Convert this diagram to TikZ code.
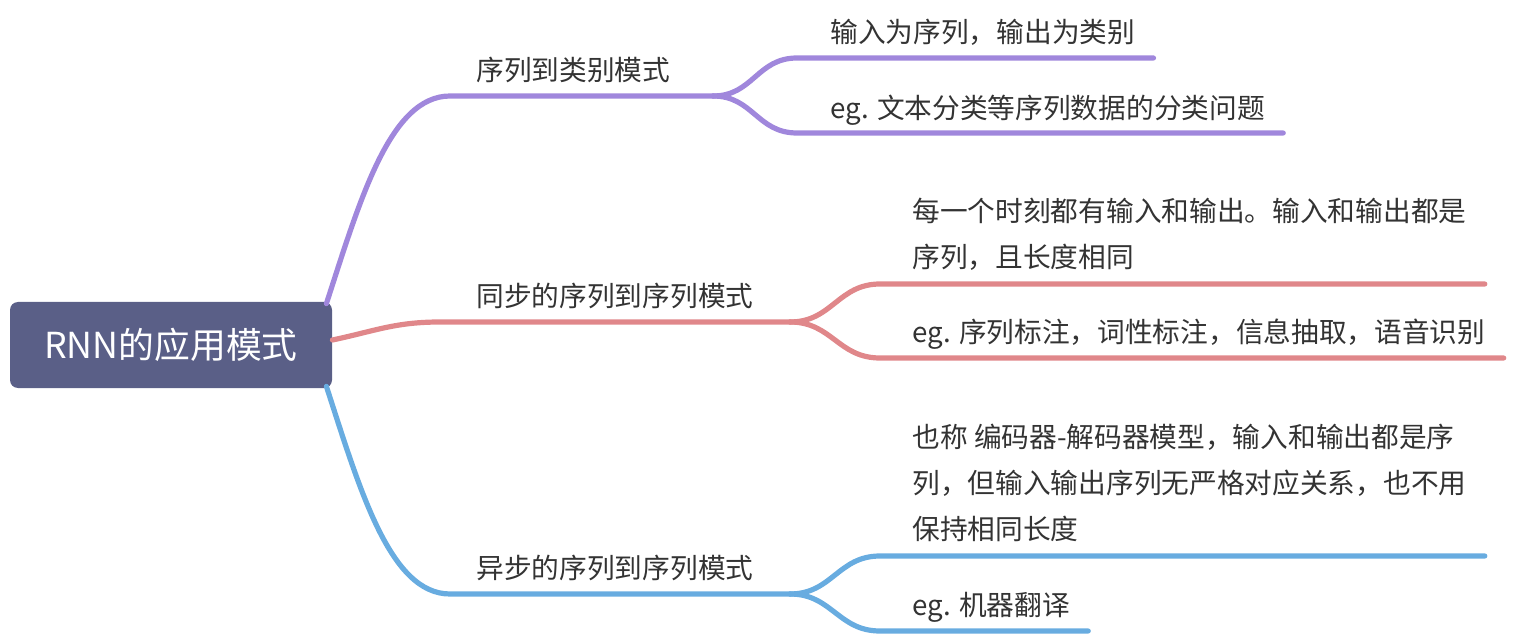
\documentclass[tikz,border=0pt]{standalone}
\usepackage{fontspec}
\setmainfont{Noto Sans CJK SC}
\definecolor{MapRoot}{HTML}{5A5F87}
\definecolor{MapPurple}{HTML}{A087DC}
\definecolor{MapRed}{HTML}{E0878A}
\definecolor{MapBlue}{HTML}{68ACE0}
\definecolor{MapText}{HTML}{333333}

\begin{document}
\begin{tikzpicture}[
    x=0.5pt,y=-0.5pt,
    rootbox/.style={fill=MapRoot,rounded corners=4pt,minimum width=161pt,minimum height=43pt,inner sep=0pt,text=white,font=\fontsize{17.9pt}{20pt}\selectfont},
    topic/.style={anchor=base west,inner xsep=9pt,inner ysep=0pt,align=left,text=MapText,font=\fontsize{13.85pt}{23pt}\selectfont},
    link/.style={line width=2.6pt,line cap=round}
  ]
  \useasboundingbox (0,0) rectangle (1516,636);
  \node[rootbox] (root) at (171,345) {RNN的应用模式};

  \node[topic] (seqcls) at (458,80.5) {序列到类别模式};
  \node[topic] (seqclsio) at (812,42.5) {输入为序列，输出为类别};
  \node[topic] (seqclseg) at (812,118.5) {eg. 文本分类等序列数据的分类问题};

  \node[topic] (syncseq) at (458,306.5) {同步的序列到序列模式};
  \node[topic] (syncio) at (894,267.5) {每一个时刻都有输入和输出。输入和输出都是\\序列，且长度相同};
  \node[topic] (synceg) at (894,342.5) {eg. 序列标注，词性标注，信息抽取，语音识别};

  \node[topic] (asyncseq) at (458,578.5) {异步的序列到序列模式};
  \node[topic] (asyncio) at (894,539.5) {也称 编码器-解码器模型，输入和输出都是序\\列，但输入输出序列无严格对应关系，也不用\\保持相同长度};
  \node[topic] (asynceg) at (894,615.5) {eg. 机器翻译};

  \coordinate (pa) at (450,96);
  \coordinate (pj) at (713,96);
  \coordinate (p1) at (797,58);
  \coordinate (p2) at (797,133);
  \coordinate (ra) at (440,322);
  \coordinate (rj) at (790,322);
  \coordinate (r1) at (880,284);
  \coordinate (r2) at (880,358);
  \coordinate (ba) at (450,594);
  \coordinate (bj) at (790,594);
  \coordinate (b1) at (880,556);
  \coordinate (b2) at (880,631);

  \draw[link,MapPurple] ([shift={(-6,2)}]root.north east) .. controls (360,200) and (390,96) .. (pa) -- (pj);
  \draw[link,MapPurple] (pj) .. controls +(40,0) and +(-40,0) .. (p1) -- (p1 -| seqclsio.east);
  \draw[link,MapPurple] (pj) .. controls +(40,0) and +(-40,0) .. (p2) -- (p2 -| seqclseg.east);

  \draw[link,MapRed] ([shift={(0,-5)}]root.east) .. controls (375,331) and (395,322) .. (ra) -- (rj);
  \draw[link,MapRed] (rj) .. controls +(42,0) and +(-42,0) .. (r1) -- (r1 -| syncio.east);
  \draw[link,MapRed] (rj) .. controls +(42,0) and +(-42,0) .. (r2) -- (r2 -| synceg.east);

  \draw[link,MapBlue] ([shift={(-6,-2)}]root.south east) .. controls (360,490) and (390,594) .. (ba) -- (bj);
  \draw[link,MapBlue] (bj) .. controls +(42,0) and +(-42,0) .. (b1) -- (b1 -| asyncio.east);
  \draw[link,MapBlue] (bj) .. controls +(42,0) and +(-42,0) .. (b2) -- (b2 -| asynceg.east);
\end{tikzpicture}
\end{document}
